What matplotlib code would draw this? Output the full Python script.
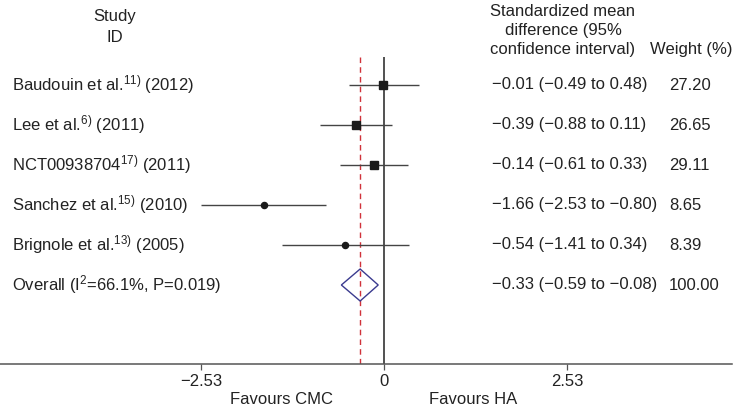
"""Forest plot: standardized mean difference, HA vs CMC."""

import matplotlib
matplotlib.use("Agg")
import matplotlib.pyplot as plt
from matplotlib.patches import Polygon

plt.rcParams["font.family"] = ["Liberation Sans", "DejaVu Sans"]
plt.rcParams["mathtext.default"] = "regular"

studies = [
    r"Baudouin et al.$^{11)}$ (2012)",
    r"Lee et al.$^{6)}$ (2011)",
    r"NCT00938704$^{17)}$ (2011)",
    r"Sanchez et al.$^{15)}$ (2010)",
    r"Brignole et al.$^{13)}$ (2005)",
]
smd = [-0.01, -0.39, -0.14, -1.66, -0.54]
ci_low = [-0.49, -0.88, -0.61, -2.53, -1.41]
ci_high = [0.48, 0.11, 0.33, -0.80, 0.34]
weights = [27.20, 26.65, 29.11, 8.65, 8.39]

overall_label = r"Overall (I$^{2}$=66.1%, P=0.019)"
overall = -0.33
overall_low = -0.59
overall_high = -0.08

xticks = [-2.53, 0, 2.53]


def fmt(v):
    return f"{v:.2f}".replace("-", "\u2212")


W, H = 735, 407
fig = plt.figure(figsize=(W / 100, H / 100), dpi=100)
# axis line sits 43 px above the bottom, spans 0..732 px
ax = fig.add_axes([0, 43 / H, 732 / W, 1 - 43 / H])
ax.set_xlim(-384 / 72.3, (732 - 384) / 72.3)
ax.set_ylim(6.975, -2.125)
for s in ("top", "left", "right"):
    ax.spines[s].set_visible(False)
ax.spines["bottom"].set_color("#555555")
ax.spines["bottom"].set_linewidth(1.1)
ax.set_yticks([])
ax.set_xticks(xticks)
ax.set_xticklabels([fmt(t) if t != 0 else "0" for t in xticks])
ax.tick_params(axis="x", length=4, width=0.9, color="#555555",
               labelsize=12, labelcolor="#222222", pad=3)
ax.patch.set_alpha(0)

txt = "#222222"
fs = 12
xt = ax.get_yaxis_transform()

# reference lines
ax.vlines(0, -0.7, 6.975, color="#222222", lw=1.1, zorder=1)
ax.vlines(overall, -0.7, 6.975, color="#d0323a", lw=1.0,
          linestyle=(0, (4, 3)), zorder=1)

for i, (lab, m, lo, hi, w) in enumerate(zip(studies, smd, ci_low, ci_high, weights)):
    ax.hlines(i, lo, hi, color="#444444", lw=1.0, zorder=2)
    if w > 15:
        ax.plot(m, i, marker="s", ms=5.3 * (w / 27.2) ** 0.5, color="#1a1a1a",
                zorder=3)
    else:
        ax.plot(m, i, marker="o", ms=4.4, color="#1a1a1a", zorder=3)
    ax.text(12 / 732, i, lab, transform=xt, ha="left", va="center",
            fontsize=fs, color=txt)
    ax.text(492 / 732, i, f"{fmt(m)} ({fmt(lo)} to {fmt(hi)})", transform=xt,
            ha="left", va="center", fontsize=fs, color=txt)
    ax.text(669 / 732, i, f"{w:.2f}", transform=xt, ha="left", va="center",
            fontsize=fs, color=txt)

row = len(studies)
diamond = Polygon([(overall_low, row), (overall, row - 0.4),
                   (overall_high, row), (overall, row + 0.4)],
                  closed=True, fill=False, edgecolor="#3b3b8f", lw=1.0, zorder=3)
ax.add_patch(diamond)
ax.text(12 / 732, row, overall_label, transform=xt, ha="left", va="center",
        fontsize=fs, color=txt)
ax.text(492 / 732, row,
        f"{fmt(overall)} ({fmt(overall_low)} to {fmt(overall_high)})",
        transform=xt, ha="left", va="center", fontsize=fs, color=txt)
ax.text(669 / 732, row, "100.00", transform=xt, ha="left", va="center",
        fontsize=fs, color=txt)

# headers
ax.text(115 / 732, -1.7, "Study", transform=xt, ha="center", va="center",
        fontsize=fs, color=txt)
ax.text(115 / 732, -1.175, "ID", transform=xt, ha="center", va="center",
        fontsize=fs, color=txt)
for y, s in [(-1.85, "Standardized mean"), (-1.36, "difference (95%"),
             (-0.88, "confidence interval)")]:
    ax.text(563 / 732, y, s, transform=xt, ha="center", va="center",
            fontsize=fs, color=txt)
ax.text(650 / 732, -0.88, "Weight (%)", transform=xt, ha="left", va="center",
        fontsize=fs, color=txt)

fig.text(282 / W, 1 - 399 / H, "Favours CMC", ha="center", va="center",
         fontsize=fs, color=txt)
fig.text(473 / W, 1 - 399 / H, "Favours HA", ha="center", va="center",
         fontsize=fs, color=txt)

fig.savefig("out.png", dpi=100)
